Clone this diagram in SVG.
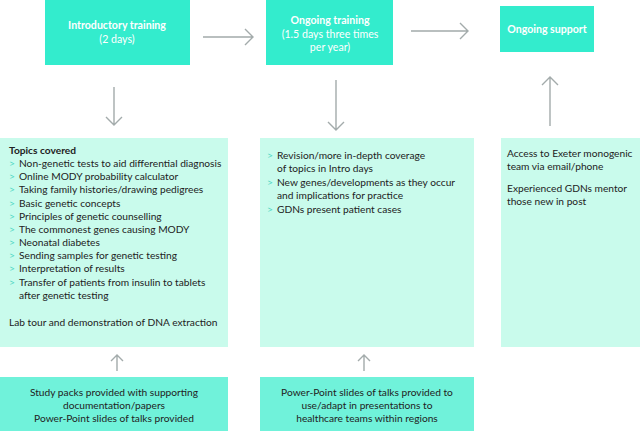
<svg xmlns="http://www.w3.org/2000/svg" width="640" height="431" viewBox="0 0 640 431">
<style>
.hd{fill:#33eccd}
.lt{fill:#c9fbec}
.md{fill:#70f2da}
.w{font-family:Lato,"Open Sans",sans-serif;font-size:10.6px;fill:#ffffff}
.wb{font-weight:bold}
.t{font-family:Lato,"Open Sans",sans-serif;font-size:10.2px;fill:#222222}
.b{fill:#4fd8c4}
.c{stroke:#a3abab;stroke-width:1.4;fill:none}
</style>
<rect width="640" height="431" fill="#ffffff"/>
<g id="intro">
<rect class="hd" x="45" y="0" width="145" height="65"/>
<text class="w wb" x="117" y="29" text-anchor="middle">Introductory training</text>
<text class="w" x="117" y="43" text-anchor="middle">(2 days)</text>
</g>
<g id="ongoing-training">
<rect class="hd" x="266" y="0" width="127" height="65"/>
<text class="w wb" x="330" y="24" text-anchor="middle">Ongoing training</text>
<text class="w" x="330" y="38" text-anchor="middle">(1.5 days three times</text>
<text class="w" x="330" y="51" text-anchor="middle">per year)</text>
</g>
<g id="ongoing-support">
<rect class="hd" x="500" y="6" width="94" height="46"/>
<text class="w wb" x="547" y="33" text-anchor="middle">Ongoing support</text>
</g>
<g id="topics">
<rect class="lt" x="0" y="138" width="228" height="209"/>
<text class="t wb" x="9" y="154">Topics covered</text>
<g class="t">
<text x="19" y="167">Non-genetic tests to aid differential diagnosis</text>
<text x="19" y="180">Online MODY probability calculator</text>
<text x="19" y="193">Taking family histories/drawing pedigrees</text>
<text x="19" y="207">Basic genetic concepts</text>
<text x="19" y="220">Principles of genetic counselling</text>
<text x="19" y="233">The commonest genes causing MODY</text>
<text x="19" y="246">Neonatal diabetes</text>
<text x="19" y="259">Sending samples for genetic testing</text>
<text x="19" y="272">Interpretation of results</text>
<text x="19" y="286">Transfer of patients from insulin to tablets</text>
<text x="19" y="299">after genetic testing</text>
<text x="9" y="326">Lab tour and demonstration of DNA extraction</text>
</g>
<g class="t b">
<text x="9" y="167">&gt;</text>
<text x="9" y="180">&gt;</text>
<text x="9" y="193">&gt;</text>
<text x="9" y="207">&gt;</text>
<text x="9" y="220">&gt;</text>
<text x="9" y="233">&gt;</text>
<text x="9" y="246">&gt;</text>
<text x="9" y="259">&gt;</text>
<text x="9" y="272">&gt;</text>
<text x="9" y="286">&gt;</text>
</g>
</g>
<g id="revision">
<rect class="lt" x="260" y="138" width="214" height="209"/>
<g class="t">
<text x="277" y="159">Revision/more in-depth coverage</text>
<text x="277" y="172">of topics in Intro days</text>
<text x="277" y="186">New genes/developments as they occur</text>
<text x="277" y="199">and implications for practice</text>
<text x="277" y="213">GDNs present patient cases</text>
</g>
<g class="t b">
<text x="267" y="159">&gt;</text>
<text x="267" y="186">&gt;</text>
<text x="267" y="213">&gt;</text>
</g>
</g>
<g id="access">
<rect class="lt" x="501" y="138" width="139" height="209"/>
<g class="t">
<text x="507" y="157">Access to Exeter monogenic</text>
<text x="507" y="170">team via email/phone</text>
<text x="507" y="192">Experienced GDNs mentor</text>
<text x="507" y="205">those new in post</text>
</g>
</g>
<g id="study-packs">
<rect class="md" x="0" y="377" width="228" height="54"/>
<g class="t" text-anchor="middle">
<text x="114" y="396">Study packs provided with supporting</text>
<text x="114" y="409">documentation/papers</text>
<text x="114" y="422">Power-Point slides of talks provided</text>
</g>
</g>
<g id="slides">
<rect class="md" x="260" y="377" width="214" height="54"/>
<g class="t" text-anchor="middle">
<text x="367" y="396">Power-Point slides of talks provided to</text>
<text x="367" y="409">use/adapt in presentations to</text>
<text x="367" y="422">healthcare teams within regions</text>
</g>
</g>
<g id="connectors" class="c">
<path d="M203 37H253M245 29L253 37L245 45"/>
<path d="M411 31H468M460 23L468 31L460 39"/>
<path d="M114 87V125M106 117L114 125L122 117"/>
<path d="M336 80V130M328 122L336 130L344 122"/>
<path d="M550 126V77M542 85L550 77L558 85"/>
<path d="M117 371V355M111 361L117 355L123 361"/>
<path d="M364 371V355M358 361L364 355L370 361"/>
</g>
</svg>
